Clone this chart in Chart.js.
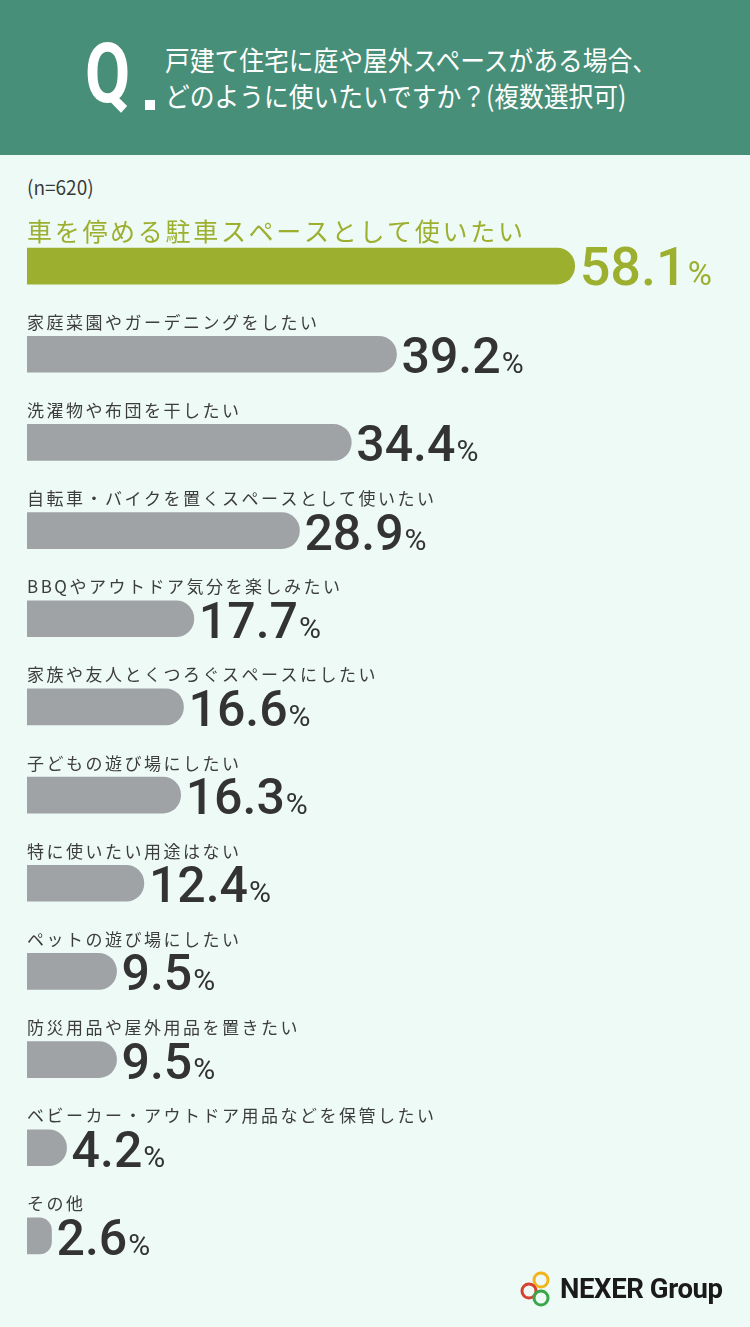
<!DOCTYPE html>
<html lang="ja">
<head>
<meta charset="utf-8">
<script src="https://cdn.jsdelivr.net/npm/chart.js@4.4.1/dist/chart.umd.min.js"></script>
<style>
  body { margin: 0; width: 750px; height: 1327px; background: #eefaf6; position: relative; overflow: hidden; font-family: "Noto Sans CJK JP", "Noto Sans", sans-serif; }
  .head { position: absolute; left: 0; top: 0; width: 750px; height: 155px; background: #478f79; }
  .q { position: absolute; left: 85px; top: 32px; color: #fff; font-family: Roboto, sans-serif; font-weight: 700; font-size: 84px; line-height: 1; transform: scaleX(0.78); transform-origin: left top; }
  .dot { position: absolute; left: 145px; top: 100px; width: 10px; height: 10px; background: #fff; }
  .qtext { position: absolute; left: 165px; top: 41px; color: #fff; font-size: 27.5px; line-height: 36px; white-space: nowrap; transform: scaleX(0.9); transform-origin: left top; }
  .note { position: absolute; left: 27px; top: 172px; color: #3a3a3a; font-size: 20px; transform: scaleX(0.95); transform-origin: left top; }
  #wrap { position: absolute; left: 0; top: 155px; width: 750px; height: 1172px; }
  .logo { position: absolute; left: 519px; top: 1269px; display: flex; align-items: center; }
  .logo span { font-family: Roboto, sans-serif; font-weight: 700; font-size: 27.5px; color: #1a1a1a; margin-left: 3px; letter-spacing: -0.4px; }
</style>
</head>
<body>
<div class="head">
  <div class="q">Q</div>
  <div class="dot"></div>
  <div class="qtext">戸建て住宅に庭や屋外スペースがある場合、<br>どのように使いたいですか？(複数選択可)</div>
</div>
<div class="note">(n=620)</div>
<div id="wrap"><canvas id="c" width="750" height="1172"></canvas></div>
<div class="logo">
  <svg width="38" height="38" viewBox="0 0 38 38">
    <circle cx="22" cy="11" r="7" fill="none" stroke="#f2b51c" stroke-width="3"/>
    <circle cx="10" cy="22" r="7" fill="none" stroke="#d8402f" stroke-width="3"/>
    <circle cx="22" cy="29" r="7" fill="none" stroke="#3aa64a" stroke-width="3"/>
  </svg>
  <span>NEXER Group</span>
</div>
<script>
const categories = [
  '車を停める駐車スペースとして使いたい',
  '家庭菜園やガーデニングをしたい',
  '洗濯物や布団を干したい',
  '自転車・バイクを置くスペースとして使いたい',
  'BBQやアウトドア気分を楽しみたい',
  '家族や友人とくつろぐスペースにしたい',
  '子どもの遊び場にしたい',
  '特に使いたい用途はない',
  'ペットの遊び場にしたい',
  '防災用品や屋外用品を置きたい',
  'ベビーカー・アウトドア用品などを保管したい',
  'その他'
];
const values = [58.1, 39.2, 34.4, 28.9, 17.7, 16.6, 16.3, 12.4, 9.5, 9.5, 4.2, 2.6];

const green = '#9caf2e';
const gray = '#a0a3a6';
const textDark = '#333333';

// draws the label above each bar and the value to its right
const labelPlugin = {
  id: 'labels',
  afterDatasetsDraw(chart) {
    const ctx = chart.ctx;
    const meta = chart.getDatasetMeta(0);
    const left = chart.chartArea.left;
    meta.data.forEach((bar, i) => {
      const top = bar.y - bar.height / 2;
      const bottom = bar.y + bar.height / 2;
      const first = i === 0;
      ctx.save();
      ctx.fillStyle = first ? green : '#3d3d3d';
      ctx.font = (first ? '25px' : '17px') + ' "Noto Sans CJK JP"';
      ctx.letterSpacing = first ? '2.7px' : '2.5px';
      ctx.textBaseline = 'middle';
      ctx.textAlign = 'left';
      ctx.fillText(categories[i], left, top - (first ? 17 : 14));

      ctx.letterSpacing = '0px';
      ctx.textBaseline = 'alphabetic';
      ctx.fillStyle = first ? green : textDark;
      ctx.font = '500 ' + (first ? 54 : 50) + 'px Roboto';
      const num = values[i].toFixed(1);
      const x0 = bar.x + 5;
      ctx.fillText(num, x0, bottom + 1);
      const w = ctx.measureText(num).width;
      ctx.font = '400 ' + (first ? 33 : 30) + 'px Roboto';
      ctx.fillText('%', x0 + w + 1, bottom + 1);
      ctx.restore();
    });
  }
};

new Chart(document.getElementById('c'), {
  type: 'bar',
  data: {
    labels: categories,
    datasets: [{
      data: values,
      backgroundColor: values.map((v, i) => i === 0 ? green : gray),
      borderRadius: 18,
      borderSkipped: 'start',
      barThickness: 36
    }]
  },
  options: {
    indexAxis: 'y',
    responsive: false,
    animation: false,
    devicePixelRatio: 1,
    layout: { padding: { left: 27, right: 82, top: 67, bottom: 47 } },
    plugins: { legend: { display: false }, tooltip: { enabled: false } },
    scales: {
      x: { display: false, min: 0, max: 68 },
      y: { display: false }
    }
  },
  plugins: [labelPlugin]
});
</script>
</body>
</html>
